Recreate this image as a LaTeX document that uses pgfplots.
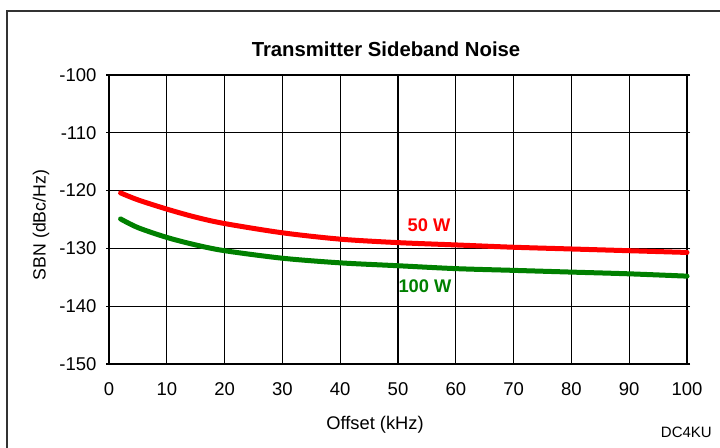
\documentclass[border=0pt]{standalone}
\usepackage{pgfplots}
\pgfplotsset{compat=1.18}
\usepackage{fontspec}
\setmainfont{Liberation Sans}
\begin{document}
\begin{tikzpicture}[x=1pt,y=1pt]
\useasboundingbox (0,0) rectangle (720,447);
\draw[line width=1.2pt,black!80] (7,-20) -- (7,436) -- (760,436);
\begin{axis}[
  at={(109pt,83pt)}, anchor=south west,
  scale only axis, width=578pt, height=289pt,
  xmin=0, xmax=100, ymin=-150, ymax=-100,
  xtick={0,10,...,100}, ytick={-150,-140,...,-100},
  grid=major, major grid style={black, line width=1.3pt},
  axis line style={black, line width=1.3pt},
  major tick length=3pt, tick align=outside,
  xtick style={draw=none}, ytick style={black, line width=1.3pt},
  /pgf/number format/assume math mode=true,
  ticklabel style={font=\fontsize{18.5}{21}\selectfont},
  yticklabel style={anchor=east, xshift=-6pt},
  xticklabel style={anchor=center, yshift=-22pt},
  clip=false,
]
\addplot[red, line width=5pt, line cap=round, smooth] coordinates {
(2,-120.4)(5,-121.6)(10,-123.2)(15,-124.6)(20,-125.7)(30,-127.3)(40,-128.4)(50,-129.0)(60,-129.4)(70,-129.8)(80,-130.1)(90,-130.4)(100,-130.7)};
\addplot[black!50!green, line width=5pt, line cap=round, smooth] coordinates {
(2,-124.9)(5,-126.4)(10,-128.1)(15,-129.4)(20,-130.4)(30,-131.7)(40,-132.5)(50,-133.0)(60,-133.5)(70,-133.8)(80,-134.1)(90,-134.4)(100,-134.8)};
\end{axis}
\node[font=\fontsize{20.3}{24}\selectfont\bfseries] at (386,398) {Transmitter Sideband Noise};
\node[font=\fontsize{18.3}{22}\selectfont] at (375,22) {Offset (kHz)};
\node[font=\fontsize{15}{18}\selectfont, anchor=east, inner sep=0pt] at (712,15) {DC4KU};
\node[font=\fontsize{17.7}{21}\selectfont, rotate=90] at (41,222) {SBN (dBc/Hz)};
\node[font=\fontsize{18.3}{22}\selectfont\bfseries, text=red] at (429,222) {50 W};
\node[font=\fontsize{18.3}{22}\selectfont\bfseries, text=black!50!green] at (425,161) {100 W};
\end{tikzpicture}
\end{document}
